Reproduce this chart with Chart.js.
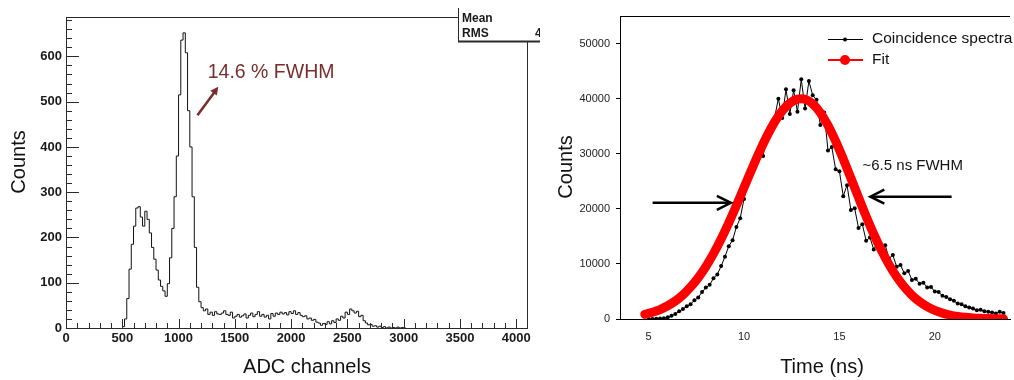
<!DOCTYPE html>
<html><head><meta charset="utf-8">
<script src="https://cdn.jsdelivr.net/npm/chart.js@4.4.1/dist/chart.umd.min.js"></script>
<style>
html,body{margin:0;padding:0;background:#fff;width:1014px;height:380px;overflow:hidden}
#c1{position:absolute;left:0;top:0}
#c2{position:absolute;left:540px;top:0}
</style></head><body>
<canvas id="c1" width="540" height="380"></canvas>
<canvas id="c2" width="474" height="380"></canvas>
<script>
// ---------- Left panel data (ADC histogram) ----------
const adcBinStart = 500;
const adcBinWidth = 20;
const adcCounts = [
  3, 20, 65, 130, 185, 225, 265, 268, 245, 225,
  258, 240, 210, 178, 152, 128, 106, 92, 82, 70,
  98, 155, 220, 290, 380, 515, 636, 652, 608, 480,
  400, 290, 178, 90, 58, 45, 38, 42, 30, 35,
  28, 36, 31, 30, 33, 38, 30, 28, 35, 22,
  26, 30, 24, 27, 31, 22, 28, 33, 25, 30,
  36, 26, 30, 24, 28, 20, 32, 26, 33, 30,
  35, 31, 34, 29, 36, 32, 38, 30, 34, 28,
  25, 27, 20, 22, 17, 19, 13, 11, 6, 10,
  8, 14, 9, 16, 12, 20, 17, 26, 22, 35,
  30, 42, 38, 33, 37, 25, 28, 16, 11, 7,
  8, 4, 5, 2, 4, 1, 3, 0, 2, 0,
  1, 0, 2, 0, 1, 0
];
const adcTicks = [0, 500, 1000, 1500, 2000, 2500, 3000, 3500, 4000];
const adcCountTicks = [0, 100, 200, 300, 400, 500, 600];
const adcAxisMax = 4096;
const adcCountMax = 687;

// ---------- Right panel data (timing) ----------
const timeNs = [
  5.0, 5.2, 5.4, 5.6, 5.8, 6.0, 6.2, 6.4, 6.6, 6.8,
  7.0, 7.2, 7.4, 7.6, 7.8, 8.0, 8.2, 8.4, 8.6, 8.8,
  9.0, 9.2, 9.4, 9.6, 9.8, 10.0, 10.2, 10.4, 10.6, 10.8,
  11.0, 11.2, 11.4, 11.6, 11.8, 12.0, 12.2, 12.4, 12.6, 12.8,
  13.0, 13.2, 13.4, 13.6, 13.8, 14.0, 14.2, 14.4, 14.6, 14.8,
  15.0, 15.2, 15.4, 15.6, 15.8, 16.0, 16.2, 16.4, 16.6, 16.8,
  17.0, 17.2, 17.4, 17.6, 17.8, 18.0, 18.2, 18.4, 18.6, 18.8,
  19.0, 19.2, 19.4, 19.6, 19.8, 20.0, 20.2, 20.4, 20.6, 20.8,
  21.0, 21.2, 21.4, 21.6, 21.8, 22.0, 22.2, 22.4, 22.6, 22.8,
  23.0, 23.2, 23.4, 23.6
];
const coincidenceCounts = [
  0, 0, 50, 100, 150, 300, 600, 900, 1400, 1800,
  2300, 2700, 3400, 3900, 4900, 5700, 6200, 7400, 8100, 9600,
  11300, 13200, 14300, 16700, 18300, 21800, 24900, 26800, 28100, 30700,
  29600, 33200, 34600, 36500, 40000, 36500, 41700, 37200, 41500, 37600,
  43500, 38200, 43200, 40600, 39800, 35200, 37500, 30600, 31200, 27200,
  26800, 22300, 24300, 19800, 20100, 16500, 17200, 14200, 14800, 12600,
  13900, 12800, 13400, 11000, 11600, 9500, 9800, 8300, 8700, 7100,
  7300, 6400, 6600, 5700, 5800, 5000, 4900, 4200, 4000, 3600,
  3300, 2800, 2700, 2300, 2100, 1900, 1600, 1700, 1400, 1300,
  1200, 1000, 1300, 1100
];
const fitTimeNs = [
  4.8, 5.2, 5.6, 6.0, 6.4, 6.8, 7.2, 7.6, 8.0, 8.4,
  8.8, 9.2, 9.6, 10.0, 10.4, 10.8, 11.2, 11.6, 12.0, 12.4,
  12.8, 13.2, 13.6, 14.0, 14.4, 14.8, 15.2, 15.6, 16.0, 16.4,
  16.8, 17.2, 17.6, 18.0, 18.4, 18.8, 19.2, 19.6, 20.0, 20.4,
  20.8, 21.2, 21.6, 22.0, 22.4, 22.8, 23.2, 23.6
];
const fitCounts = [
  840, 1210, 1720, 2400, 3270, 4390, 5790, 7490, 9510, 11860,
  14520, 17450, 20590, 23850, 27130, 30290, 33200, 35740, 37770, 39180,
  39910, 39890, 39060, 37440, 35140, 32290, 29050, 25590, 22060, 18630,
  15400, 12460, 9870, 7660, 5820, 4330, 3150, 2240, 1570, 1070,
  720, 470, 300, 190, 120, 70, 40, 25
];
const timeTicks = [5, 10, 15, 20];
const timeCountTicks = [0, 10000, 20000, 30000, 40000, 50000];
const timeAxisMin = 3.5, timeAxisMax = 23.94;
const timeCountMax = 55000;

const FONT = '"Liberation Sans", Arial, Helvetica, sans-serif';

// ---------- helpers ----------
function arrowHead(ctx, x1, y1, x2, y2, len, half, filled) {
  const a = Math.atan2(y2 - y1, x2 - x1);
  const bx = x2 - len * Math.cos(a), by = y2 - len * Math.sin(a);
  const px = -Math.sin(a) * half, py = Math.cos(a) * half;
  ctx.beginPath();
  ctx.moveTo(bx + px, by + py);
  ctx.lineTo(x2, y2);
  ctx.lineTo(bx - px, by - py);
  if (filled) { ctx.closePath(); ctx.fill(); } else { ctx.stroke(); }
}

// ---------- Left chart ----------
const histPoints = adcCounts.map((c, i) => ({ x: adcBinStart + i * adcBinWidth, y: c }));
histPoints.push({ x: adcBinStart + adcCounts.length * adcBinWidth, y: 0 });

const leftDecor = {
  id: 'leftDecor',
  afterDraw(chart) {
    const ctx = chart.ctx;
    const { left, right, top, bottom } = chart.chartArea;
    const xs = chart.scales.x, ys = chart.scales.y;
    ctx.save();
    ctx.strokeStyle = '#2a2a2a';
    ctx.lineWidth = 1;
    ctx.strokeRect(Math.round(left) + 0.5, Math.round(top) + 0.5, Math.round(right - left), Math.round(bottom - top));
    // inner ticks
    ctx.beginPath();
    for (let v = 0; v <= adcAxisMax; v += 100) {
      const px = Math.round(xs.getPixelForValue(v)) + 0.5;
      const len = (v % 500 === 0) ? 9 : 5;
      ctx.moveTo(px, bottom); ctx.lineTo(px, bottom - len);
    }
    for (let v = 0; v <= adcCountMax; v += 20) {
      const py = Math.round(ys.getPixelForValue(v)) + 0.5;
      const len = (v % 100 === 0) ? 13 : 6;
      ctx.moveTo(left, py); ctx.lineTo(left + len, py);
    }
    ctx.stroke();

    // stats box
    ctx.fillStyle = '#fff';
    ctx.fillRect(458, 8, 100, 33);
    ctx.beginPath();
    ctx.moveTo(458.5, 8); ctx.lineTo(458.5, 41);
    ctx.stroke();
    ctx.lineWidth = 2;
    ctx.beginPath();
    ctx.moveTo(458, 41.5); ctx.lineTo(540, 41.5);
    ctx.stroke();
    ctx.fillStyle = '#1a1a1a';
    ctx.font = 'bold 12px ' + FONT;
    ctx.textBaseline = 'alphabetic';
    ctx.textAlign = 'left';
    ctx.fillText('Mean', 462, 22);
    ctx.fillText('RMS', 462, 37);
    ctx.fillText('4', 535, 37);

    // axis titles
    ctx.font = '20px ' + FONT;
    ctx.fillStyle = '#111';
    ctx.textAlign = 'center';
    ctx.fillText('ADC channels', 307, 373);
    ctx.save();
    ctx.translate(25, 162);
    ctx.rotate(-Math.PI / 2);
    ctx.fillText('Counts', 0, 0);
    ctx.restore();

    // annotation
    const red = '#7a2c2c';
    ctx.fillStyle = red;
    ctx.strokeStyle = red;
    ctx.font = '19.5px ' + FONT;
    ctx.textAlign = 'left';
    ctx.fillText('14.6 % FWHM', xs.getPixelForValue(1259), ys.getPixelForValue(553));
    const ax1 = xs.getPixelForValue(1168), ay1 = ys.getPixelForValue(470);
    const ax2 = xs.getPixelForValue(1353), ay2 = ys.getPixelForValue(533);
    ctx.lineWidth = 2.5;
    ctx.beginPath(); ctx.moveTo(ax1, ay1); ctx.lineTo(ax2 - 2, ay2 + 3); ctx.stroke();
    arrowHead(ctx, ax1, ay1, ax2, ay2, 8, 4, true);
    ctx.restore();
  }
};

new Chart(document.getElementById('c1'), {
  type: 'line',
  data: {
    datasets: [{
      data: histPoints,
      stepped: true,
      borderColor: '#111',
      borderWidth: 1,
      pointRadius: 0,
      fill: false
    }]
  },
  options: {
    responsive: false,
    devicePixelRatio: 1,
    animation: false,
    layout: { padding: { top: 17, right: 13, left: 0, bottom: 0 } },
    plugins: { legend: { display: false }, tooltip: { enabled: false } },
    scales: {
      x: {
        type: 'linear',
        min: 0, max: adcAxisMax,
        afterBuildTicks: s => { s.ticks = adcTicks.map(v => ({ value: v })); },
        afterFit: s => { s.height = 52; },
        grid: { display: false, drawTicks: false },
        border: { display: false },
        ticks: { autoSkip: false, maxRotation: 0, padding: 3, color: '#1a1a1a',
                 font: { family: FONT, size: 13, weight: 'bold' }, callback: v => String(v) }
      },
      y: {
        type: 'linear',
        min: 0, max: adcCountMax,
        afterBuildTicks: s => { s.ticks = adcCountTicks.map(v => ({ value: v })); },
        afterFit: s => { s.width = 66; },
        grid: { display: false, drawTicks: false },
        border: { display: false },
        ticks: { autoSkip: false, padding: 4, color: '#1a1a1a',
                 font: { family: FONT, size: 13, weight: 'bold' }, callback: v => String(v) }
      }
    }
  },
  plugins: [leftDecor]
});

// ---------- Right chart ----------
const rightDecor = {
  id: 'rightDecor',
  afterDraw(chart) {
    const ctx = chart.ctx;
    const { left, right, top, bottom } = chart.chartArea;
    const xs = chart.scales.x, ys = chart.scales.y;
    ctx.save();
    ctx.strokeStyle = '#000';
    ctx.lineWidth = 1;
    ctx.beginPath();
    ctx.moveTo(left, Math.round(top) + 0.5); ctx.lineTo(right, Math.round(top) + 0.5);
    ctx.moveTo(left - 4, Math.round(bottom) + 0.5); ctx.lineTo(left, Math.round(bottom) + 0.5);
    ctx.stroke();

    // legend
    const lx1 = 288, lx2 = 323, lmx = 305;
    ctx.beginPath(); ctx.moveTo(lx1, 39.5); ctx.lineTo(lx2, 39.5); ctx.stroke();
    ctx.fillStyle = '#000';
    ctx.beginPath(); ctx.arc(lmx, 39.5, 2, 0, Math.PI * 2); ctx.fill();
    ctx.strokeStyle = '#ff0000'; ctx.lineWidth = 2;
    ctx.beginPath(); ctx.moveTo(lx1, 60); ctx.lineTo(lx2, 60); ctx.stroke();
    ctx.fillStyle = '#ff0000';
    ctx.beginPath(); ctx.arc(lmx, 60, 5, 0, Math.PI * 2); ctx.fill();
    ctx.fillStyle = '#111';
    ctx.font = '15.5px ' + FONT;
    ctx.textAlign = 'left';
    ctx.textBaseline = 'middle';
    ctx.fillText('Coincidence spectra', 332, 39);
    ctx.fillText('Fit', 332, 60);

    // annotation
    ctx.textBaseline = 'alphabetic';
    ctx.font = '15px ' + FONT;
    ctx.fillText('~6.5 ns FWHM', xs.getPixelForValue(16.21), ys.getPixelForValue(27100));
    ctx.strokeStyle = '#000';
    ctx.lineWidth = 2.5;
    const y1 = ys.getPixelForValue(21100);
    const a1 = xs.getPixelForValue(5.21), a2 = xs.getPixelForValue(9.31);
    ctx.beginPath(); ctx.moveTo(a1, y1); ctx.lineTo(a2 - 1, y1); ctx.stroke();
    arrowHead(ctx, a1, y1, a2, y1, 14, 7, false);
    const y2 = ys.getPixelForValue(22200);
    const b1 = xs.getPixelForValue(20.88), b2 = xs.getPixelForValue(16.62);
    ctx.beginPath(); ctx.moveTo(b1, y2); ctx.lineTo(b2 + 1, y2); ctx.stroke();
    arrowHead(ctx, b1, y2, b2, y2, 14, 7, false);

    // axis titles
    ctx.fillStyle = '#111';
    ctx.font = '20px ' + FONT;
    ctx.textAlign = 'center';
    ctx.fillText('Time (ns)', 282, 373);
    ctx.save();
    ctx.translate(32, 167);
    ctx.rotate(-Math.PI / 2);
    ctx.fillText('Counts', 0, 0);
    ctx.restore();
    ctx.restore();
  }
};

new Chart(document.getElementById('c2'), {
  type: 'line',
  data: {
    datasets: [
      {
        label: 'Fit',
        data: fitTimeNs.map((t, i) => ({ x: t, y: fitCounts[i] })),
        borderColor: '#ff0000',
        borderWidth: 9,
        borderCapStyle: 'round',
        borderJoinStyle: 'round',
        tension: 0.4,
        pointRadius: 0,
        fill: false,
        order: 1
      },
      {
        label: 'Coincidence spectra',
        data: timeNs.map((t, i) => ({ x: t, y: coincidenceCounts[i] })),
        borderColor: '#000',
        borderWidth: 1,
        pointRadius: 2,
        pointBackgroundColor: '#000',
        pointBorderWidth: 0,
        pointStyle: 'circle',
        tension: 0,
        fill: false,
        order: 2
      }
    ]
  },
  options: {
    responsive: false,
    devicePixelRatio: 1,
    animation: false,
    layout: { padding: { top: 16, right: 0, left: 0, bottom: 0 } },
    plugins: { legend: { display: false }, tooltip: { enabled: false } },
    scales: {
      x: {
        type: 'linear',
        min: timeAxisMin, max: timeAxisMax,
        afterBuildTicks: s => { s.ticks = timeTicks.map(v => ({ value: v })); },
        afterFit: s => { s.height = 61; },
        grid: { display: false, drawTicks: false },
        border: { display: true, color: '#000', width: 1 },
        ticks: { autoSkip: false, maxRotation: 0, padding: 11, color: '#222',
                 font: { family: FONT, size: 11 }, callback: v => String(v) }
      },
      y: {
        type: 'linear',
        min: 0, max: timeCountMax,
        afterBuildTicks: s => { s.ticks = timeCountTicks.map(v => ({ value: v })); },
        afterFit: s => { s.width = 80; },
        grid: { display: true, drawOnChartArea: false, drawTicks: true, tickLength: 4, color: '#000' },
        border: { display: true, color: '#000', width: 1 },
        ticks: { autoSkip: false, padding: 6, color: '#222',
                 font: { family: FONT, size: 11 }, callback: v => String(v) }
      }
    }
  },
  plugins: [rightDecor]
});
</script>
</body></html>
